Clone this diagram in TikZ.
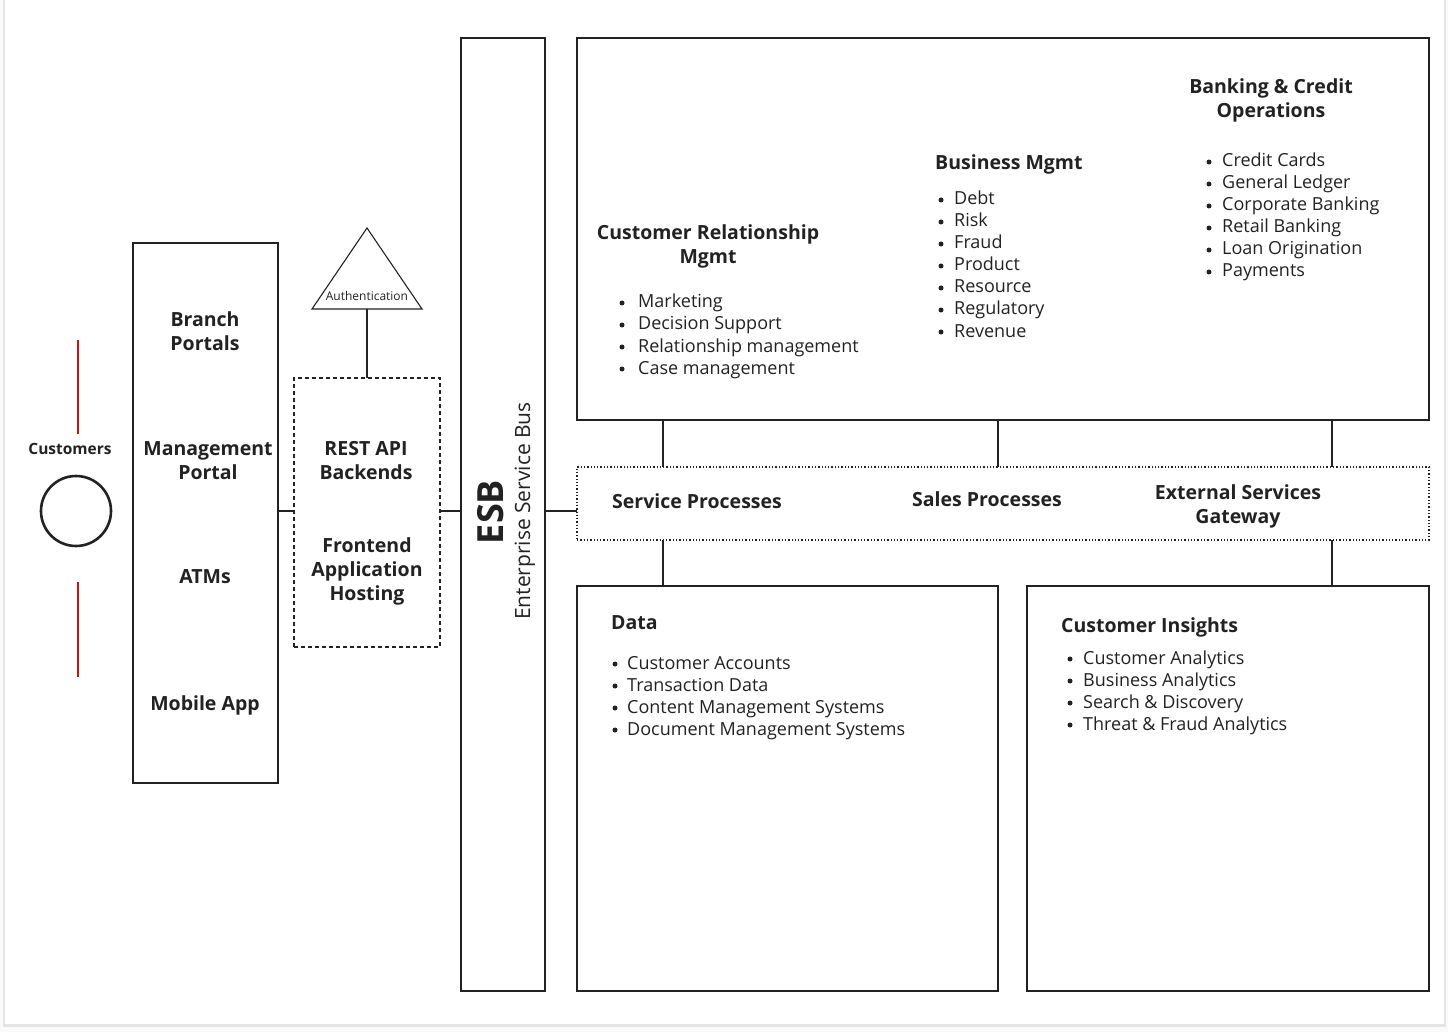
\documentclass[tikz,border=0pt]{standalone}
\usepackage{fontspec}
\setmainfont{Open Sans}
\definecolor{ink}{HTML}{222222}
\definecolor{redline}{HTML}{CC1111}
\newcommand{\mylist}[5]{% #1 name, #2 bullet x, #3 text x, #4 first y, #5 items
  \foreach \t [count=\i from 0] in {#5} {
    \node[item] (#1-\i) at (#3, #4+22*\i+6) {\t};
    \fill[ink] (#2, #4+22*\i+1) circle (2.5);
  }}
\begin{document}
\begin{tikzpicture}[x=1pt,y=-1pt,
  box/.style={draw=ink, line width=1.3pt, inner sep=0pt, outer sep=0pt, anchor=north west},
  conn/.style={draw=ink, line width=1.1pt},
  title/.style={font=\fontsize{19.5}{24}\selectfont\bfseries, text=ink, align=center, inner sep=0pt},
  chtext/.style={font=\fontsize{19.5}{24}\selectfont\bfseries, text=ink, align=center, inner sep=0pt},
  item/.style={font=\fontsize{18}{22}\selectfont, text=ink, inner sep=0pt, anchor=base west}]
\useasboundingbox (0,0) rectangle (1448,1032);
\fill[gray!4] (0,0) rectangle (1448,1032);
\fill[gray!20] (3,0) rectangle (1446,1027);
\fill[white] (5,0) rectangle (1444,1024);

% main boxes
\node[box, minimum width=852pt, minimum height=382pt] (crm) at (577,38) {};
\node[box, line width=2.5pt, minimum width=84pt, minimum height=953pt] (esb) at (461,38) {};
\node[box, dotted, minimum width=852pt, minimum height=73pt] (proc) at (577,467) {};
\node[box, minimum width=421pt, minimum height=405pt] (data) at (577,586) {};
\node[box, minimum width=402pt, minimum height=405pt] (ins) at (1027,586) {};
\node[box, minimum width=145pt, minimum height=540pt] (chan) at (133,243) {};
\node[box, dashed, dash pattern=on 4pt off 3pt, line width=1.6pt, minimum width=146pt, minimum height=269pt] (api) at (294,378) {};

% authentication triangle
\draw[ink, line width=1.1pt, line join=miter] (312,309) -- (367,228) -- (422,309) -- cycle;
\coordinate (authb) at (367,309);
\node[font=\fontsize{12}{14}\selectfont, text=ink, inner sep=0pt] (authl) at (367,296) {Authentication};

% customers
\node[circle, draw=ink, line width=2.6pt, minimum size=70pt, inner sep=0pt] (cust) at (76,511) {};
\node[font=\fontsize{15.5}{18}\selectfont\bfseries, text=ink, inner sep=0pt] (custl) at (70,449) {Customers};
\draw[redline, line width=1.8pt] (78,340) -- (78,434);
\draw[redline, line width=1.8pt] (78,582) -- (78,677);

% connectors
\draw[conn] (authb) -- (api.north);
\draw[conn] (chan.east |- 0,511) -- (api.west |- 0,511);
\draw[conn] (api.east |- 0,511) -- (esb.west |- 0,511);
\draw[conn] (esb.east |- 0,511) -- (proc.west |- 0,511);
\draw[conn] (crm.south -| 663,0) -- (proc.north -| 663,0);
\draw[conn] (crm.south -| 998,0) -- (proc.north -| 998,0);
\draw[conn] (crm.south -| 1332,0) -- (proc.north -| 1332,0);
\draw[conn] (proc.south -| 663,0) -- (data.north -| 663,0);
\draw[conn] (proc.south -| 1332,0) -- (ins.north -| 1332,0);

% channel texts
\node[chtext] (branch) at (205,331) {Branch\\Portals};
\node[chtext] (mgmt) at (208,461) {Management\\Portal};
\node[chtext] (atm) at (205,577) {ATMs};
\node[chtext] (mob) at (205,705) {Mobile App};
\node[chtext] (rest) at (366,461) {REST API\\Backends};
\node[chtext] (front) at (367,571) {Frontend\\Application\\Hosting};

% ESB
\node[rotate=90, font=\fontsize{36}{40}\selectfont\bfseries, text=ink, inner sep=0pt] (esbl) at (491,512) {ESB};
\node[rotate=90, font=\fontsize{21}{24}\selectfont, text=ink, inner sep=0pt] (esbs) at (525,511) {Enterprise Service Bus};

% top box content
\node[title] (crmt) at (708,246) {Customer Relationship\\Mgmt};
\mylist{crml}{622}{638}{302}{Marketing,Decision Support,Relationship management,Case management}
\node[title, anchor=west] (bmt) at (935,164) {Business Mgmt};
\mylist{bml}{941}{954}{199}{Debt,Risk,Fraud,Product,Resource,Regulatory,Revenue}
\node[title] (bct) at (1271,100) {Banking \& Credit\\Operations};
\mylist{bcl}{1209}{1222}{161}{Credit Cards,General Ledger,Corporate Banking,Retail Banking,Loan Origination,Payments}

% processes
\node[title] (sp) at (697,501) {Service Processes};
\node[title] (sales) at (987,499) {Sales Processes};
\node[title] (ext) at (1238,506) {External Services\\Gateway};

% data
\node[title, anchor=west] (datat) at (611,623) {Data};
\mylist{dl}{615}{627}{663}{Customer Accounts,Transaction Data,Content Management Systems,Document Management Systems}

% insights
\node[title, anchor=west] (inst) at (1061,627) {Customer Insights};
\mylist{il}{1070}{1083}{658}{Customer Analytics,Business Analytics,Search \& Discovery,Threat \& Fraud Analytics}
\end{tikzpicture}
\end{document}
